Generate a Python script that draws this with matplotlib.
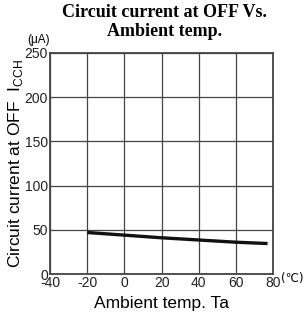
import matplotlib
matplotlib.use("Agg")
import matplotlib.pyplot as plt

temps = [-20, 0, 20, 40, 60, 77]
current = [47, 44, 41, 38.5, 36, 34.5]
xticks = [-40, -20, 0, 20, 40, 60, 80]
xticklabels = ["-40", "-20", "0", "20", "40", "60", "80"]
yticks = [0, 50, 100, 150, 200, 250]

plt.rcParams['font.family'] = ['Liberation Sans', 'DejaVu Sans']

fig = plt.figure(figsize=(3.04, 3.15), dpi=100)
ax = fig.add_axes([0.1645, 0.130, 0.734, 0.702])
ax.plot(temps, current, color="#111111", lw=2.4, solid_capstyle="butt")
ax.set_xlim(-40, 80)
ax.set_ylim(0, 250)
ax.set_xticks(xticks)
ax.set_xticklabels(xticklabels)
ax.set_yticks(yticks)
ax.tick_params(length=0, labelsize=10, pad=1.5, colors="#222222")
ax.grid(True, color="#444444", lw=0.9)
for s in ax.spines.values():
    s.set_color("#444444")
    s.set_linewidth(1.3)
ax.set_xlabel("Ambient temp. Ta", fontsize=12.5, labelpad=4)
ax.set_ylabel(r"Circuit current at OFF  I$_{\mathregular{CCH}}$", fontsize=12.5, labelpad=2)
ax.yaxis.set_label_coords(-0.112, 0.5)
fig.text(0.54, 0.988, "Circuit current at OFF Vs.\nAmbient temp.", ha="center", va="top",
         fontsize=13, fontweight="heavy", family=["Liberation Serif"], linespacing=1.15)
fig.text(0.09, 0.855, "(μA)", fontsize=8.5, ha="left", va="bottom")
fig.text(0.925, 0.117, "(℃)", fontsize=8.5, ha="left", va="center", family=["DejaVu Sans"])
fig.savefig("out.png", dpi=100)
